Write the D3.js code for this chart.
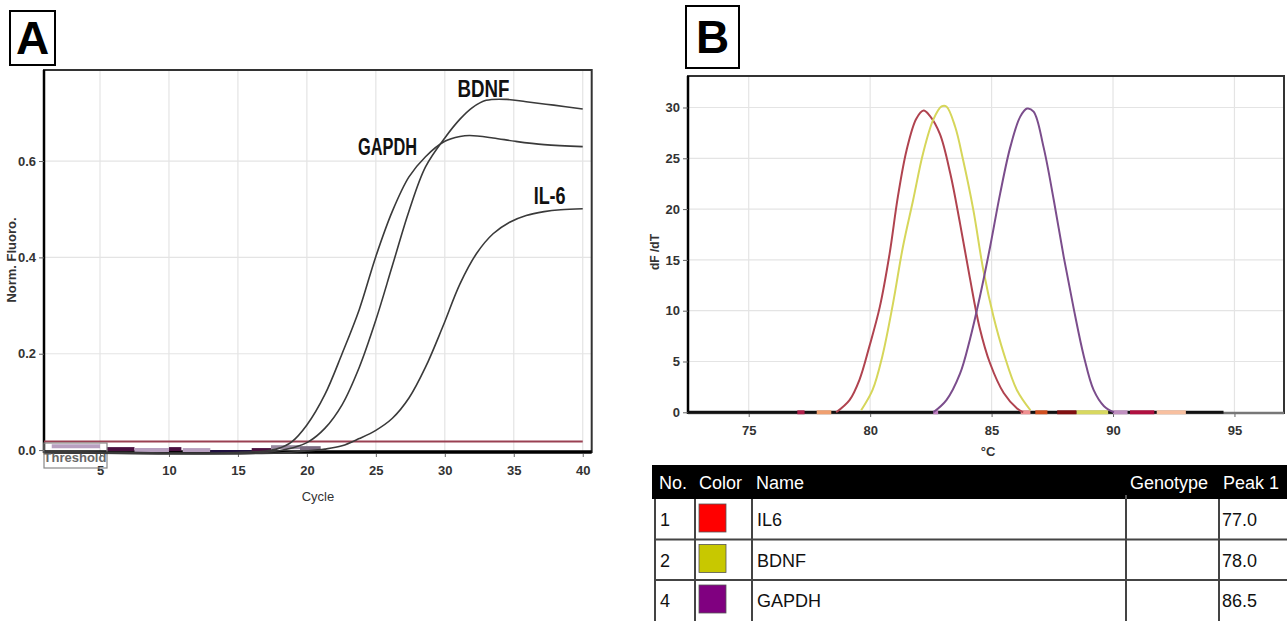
<!DOCTYPE html>
<html>
<head>
<meta charset="utf-8">
<script src="https://cdn.jsdelivr.net/npm/d3@7"></script>
<style>
  body { margin: 0; background: #fff; }
  text { font-family: "Liberation Sans", Arial, sans-serif; }
</style>
</head>
<body>
<div id="chart"></div>
<script>
// ---- panel A: amplification curves (cycle, norm. fluoro.)
const cycleTicks = [5, 10, 15, 20, 25, 30, 35, 40];
const fluoroTicks = [0.0, 0.2, 0.4, 0.6];
const gapdhAmp = [[1,-0.003],[5,-0.004],[10,-0.006],[15,-0.005],[17,-0.002],[17.9,0.003],[18.9,0.017],[20,0.052],[21.3,0.115],[22.55,0.2],[23.8,0.292],[25,0.402],[26.2,0.496],[27.4,0.567],[28.6,0.609],[30,0.641],[31.1,0.651],[31.8,0.653],[33.5,0.648],[35.1,0.641],[37.2,0.634],[40,0.63]];
const bdnfAmp = [[1,-0.004],[10,-0.007],[17,-0.005],[19,0.005],[20.1,0.017],[21.3,0.045],[22.55,0.094],[23.8,0.172],[25,0.27],[26.2,0.383],[27.4,0.496],[28.6,0.588],[30,0.648],[31.1,0.687],[32,0.711],[33,0.726],[34.5,0.728],[35.9,0.723],[37.9,0.716],[40,0.708]];
const il6Amp = [[1,-0.005],[10,-0.008],[18,-0.006],[20,-0.002],[21.3,0.002],[22.55,0.009],[23.8,0.024],[25,0.041],[26.2,0.066],[27.4,0.108],[28.6,0.172],[29.85,0.256],[31.1,0.345],[32.3,0.408],[33.5,0.449],[34.7,0.473],[35.9,0.487],[37.2,0.495],[38.4,0.499],[40,0.501]];
const threshold = 0.018;
// coloured sample markers lying on the baseline: [from, to, value, colour]
const ampMarks = [[1.5,5,0.008,"#b8a0c0"],[5.5,7.5,0.002,"#4a1040"],[7.5,10,0.0,"#b8a0c0"],[10,10.9,0.002,"#4a1040"],[11,13,0.0,"#b8a0c0"],[13,16,-0.004,"#201040"],[16,17.4,0.0,"#4a1040"],[17.4,19.5,0.006,"#9a8aa0"],[19.5,21,0.004,"#7a6a80"]];
// label, cycle, value, width
const ampLabels = [["BDNF",32.8,0.733,52],["GAPDH",25.85,0.613,59],["IL-6",37.6,0.51,32]];

// ---- panel B: melt curves (°C, dF/dT)
const tempTicks = [75, 80, 85, 90, 95];
const dfTicks = [0, 5, 10, 15, 20, 25, 30];
const il6Melt = [[78.6,0],[79.15,1.2],[79.56,3.2],[79.97,6.5],[80.4,10.4],[80.8,15.6],[81.14,21.2],[81.5,25.8],[81.9,28.9],[82.2,29.7],[82.45,29.2],[82.87,27.4],[83.3,23.5],[83.7,18.6],[84.1,13.3],[84.5,8.4],[84.94,4.8],[85.5,1.9],[86.04,0.4],[86.3,0]];
const bdnfMelt = [[79.63,0.2],[80.1,2.2],[80.5,5.5],[80.94,10.7],[81.35,16.3],[81.77,20.9],[82.18,25.5],[82.6,28.8],[82.94,30.1],[83.14,30.1],[83.5,28.1],[83.83,24.8],[84.25,19.9],[84.66,14],[85.08,9.4],[85.5,5.8],[86.04,2.2],[86.6,0.2]];
const gapdhMelt = [[82.6,0],[83.14,1.2],[83.7,3.8],[84.1,7.1],[84.52,11.4],[84.94,16.3],[85.35,21.5],[85.77,26.1],[86.18,29.1],[86.46,29.9],[86.73,29.6],[87.14,26.1],[87.56,20.9],[87.97,15.3],[88.39,10.1],[88.8,5.5],[89.2,2.2],[89.63,0.6],[90.04,0]];
const meltColors = ["#b0434f", "#d6d65a", "#7b4d8c"];
const meltMarks = [[77.0,77.3,"#b0204a"],[77.8,78.4,"#f0a070"],[82.6,82.8,"#c080c0"],[86.2,86.6,"#f09090"],[86.8,87.3,"#d05020"],[87.7,88.5,"#801010"],[88.5,89.8,"#d8d860"],[90,90.6,"#c090c0"],[90.7,91.7,"#b01040"],[91.8,93,"#f8c0a0"]];

// ---- table
const tableHeads = ["No.", "Color", "Name", "", "Genotype", "Peak 1"];
const tableNo = ["1", "2", "4"];
const tableSwatch = ["#ff0000", "#c8c800", "#800080"];
const tableName = ["IL6", "BDNF", "GAPDH"];
const tablePeak = ["77.0", "78.0", "86.5"];

const svg = d3.select("#chart").append("svg").attr("width", 1287).attr("height", 621);
svg.append("rect").attr("width", 1287).attr("height", 621).attr("fill", "#fff");

function letterBox(x, y, w, h, t) {
  svg.append("rect").attr("x", x).attr("y", y).attr("width", w).attr("height", h)
    .attr("fill", "#fff").attr("stroke", "#000").attr("stroke-width", 2);
  svg.append("text").attr("x", x + w / 2).attr("y", y + h / 2 + 16).attr("text-anchor", "middle")
    .attr("font-size", 46).attr("font-weight", "bold").text(t);
}

//////////////// panel A
letterBox(10, 11, 45, 54, "A");
const xA = d3.scaleLinear().domain([0.94, 40.65]).range([44, 591.7]);
const yA = d3.scaleLinear().domain([-0.004, 0.789]).range([452, 70]);
const gA = svg.append("g");
const [aL, aR] = xA.range(), [aB, aT] = yA.range();

gA.selectAll(".vg").data(cycleTicks).join("line")
  .attr("x1", d => xA(d)).attr("x2", d => xA(d)).attr("y1", aT).attr("y2", aB)
  .attr("stroke", "#e4e4e4").attr("stroke-width", 1.2);
gA.selectAll(".hg").data(fluoroTicks.slice(1)).join("line")
  .attr("x1", aL).attr("x2", aR).attr("y1", d => yA(d)).attr("y2", d => yA(d))
  .attr("stroke", "#e4e4e4").attr("stroke-width", 1.2);

// frame
gA.append("rect").attr("x", aL).attr("y", aT).attr("width", aR - aL).attr("height", aB - aT)
  .attr("fill", "none").attr("stroke", "#333").attr("stroke-width", 2);
gA.append("line").attr("x1", aL).attr("x2", aL).attr("y1", aT).attr("y2", aB + 1).attr("stroke", "#000").attr("stroke-width", 2.5);
gA.append("line").attr("x1", aL).attr("x2", aR).attr("y1", aB).attr("y2", aB).attr("stroke", "#000").attr("stroke-width", 3.5);

// axes
const axLeftA = gA.append("g").attr("transform", `translate(${aL},0)`)
  .call(d3.axisLeft(yA).tickValues(fluoroTicks).tickFormat(d3.format(".1f")).tickSize(5));
const axBotA = gA.append("g").attr("transform", `translate(0,${aB + 2})`)
  .call(d3.axisBottom(xA).tickValues(cycleTicks).tickSize(3).tickPadding(9));
[axLeftA, axBotA].forEach(a => {
  a.select(".domain").remove();
  a.selectAll("line").attr("stroke", "#666");
  a.selectAll("text").attr("font-size", 13).attr("fill", "#333")
    .attr("font-family", "'Liberation Sans Narrow', 'Liberation Sans', Arial").attr("font-weight", "bold");
});
gA.append("text").attr("x", 318).attr("y", 501).attr("text-anchor", "middle")
  .attr("font-size", 13).attr("fill", "#333").attr("font-family", "'Liberation Sans Narrow', Arial").text("Cycle");
gA.append("text").attr("transform", "translate(16,260) rotate(-90)").attr("text-anchor", "middle")
  .attr("font-size", 13).attr("fill", "#333").attr("font-weight", "bold").text("Norm. Fluoro.");

// baseline markers
gA.selectAll(".mk").data(ampMarks).join("line")
  .attr("x1", d => xA(d[0])).attr("x2", d => xA(d[1])).attr("y1", d => yA(d[2])).attr("y2", d => yA(d[2]))
  .attr("stroke", d => d[3]).attr("stroke-width", 4);

// threshold
gA.append("line").attr("x1", aL).attr("x2", xA(40)).attr("y1", yA(threshold)).attr("y2", yA(threshold))
  .attr("stroke", "#9a4052").attr("stroke-width", 2);
gA.append("rect").attr("x", 44).attr("y", 443).attr("width", 63).attr("height", 25)
  .attr("fill", "none").attr("stroke", "#888").attr("stroke-width", 1.2);
gA.append("text").attr("x", 75).attr("y", 462).attr("text-anchor", "middle").attr("font-size", 13)
  .attr("fill", "#666").attr("font-weight", "bold").attr("font-family", "'Liberation Sans Narrow', Arial").text("Threshold");

const lineA = d3.line().x(d => xA(d[0])).y(d => yA(d[1])).curve(d3.curveCatmullRom.alpha(0.5));
[gapdhAmp, bdnfAmp, il6Amp].forEach(s => {
  gA.append("path").attr("d", lineA(s)).attr("fill", "none").attr("stroke", "#3a3a3a").attr("stroke-width", 1.6);
});
gA.selectAll(".lab").data(ampLabels).join("text")
  .attr("x", d => xA(d[1]) - d[3] / 2).attr("y", d => yA(d[2]))
  .attr("font-size", 23).attr("font-weight", "bold").attr("fill", "#111")
  .attr("font-family", "'Liberation Sans Narrow', Arial")
  .attr("textLength", d => d[3]).attr("lengthAdjust", "spacingAndGlyphs").text(d => d[0]);

//////////////// panel B
letterBox(686, 6, 53, 62, "B");
const xB = d3.scaleLinear().domain([72.5, 97.04]).range([688, 1284]);
const yB = d3.scaleLinear().domain([-0.07, 33.1]).range([413, 76]);
const gB = svg.append("g");

gB.selectAll(".vg").data(tempTicks).join("line")
  .attr("x1", d => xB(d)).attr("x2", d => xB(d)).attr("y1", 76).attr("y2", 413)
  .attr("stroke", "#e4e4e4").attr("stroke-width", 1.2);
gB.selectAll(".hg").data(dfTicks.slice(1)).join("line")
  .attr("x1", 688).attr("x2", 1284).attr("y1", d => yB(d)).attr("y2", d => yB(d))
  .attr("stroke", "#e4e4e4").attr("stroke-width", 1.2);
gB.append("rect").attr("x", 688).attr("y", 76).attr("width", 596).attr("height", 337)
  .attr("fill", "none").attr("stroke", "#333").attr("stroke-width", 2);
gB.append("line").attr("x1", 688).attr("x2", 688).attr("y1", 76).attr("y2", 414).attr("stroke", "#000").attr("stroke-width", 2.5);
gB.append("line").attr("x1", 688).attr("x2", 1284).attr("y1", 413).attr("y2", 413).attr("stroke", "#777").attr("stroke-width", 2.5);
gB.append("line").attr("x1", xB(72.5)).attr("x2", xB(94.55)).attr("y1", yB(0)).attr("y2", yB(0)).attr("stroke", "#111").attr("stroke-width", 3);

const axLeftB = gB.append("g").attr("transform", "translate(688,0)")
  .call(d3.axisLeft(yB).tickValues(dfTicks).tickSize(5));
const axBotB = gB.append("g").attr("transform", "translate(0,414)")
  .call(d3.axisBottom(xB).tickValues(tempTicks).tickSize(3).tickPadding(9));
[axLeftB, axBotB].forEach(a => {
  a.select(".domain").remove();
  a.selectAll("line").attr("stroke", "#666");
  a.selectAll("text").attr("font-size", 13).attr("fill", "#333")
    .attr("font-family", "'Liberation Sans Narrow', 'Liberation Sans', Arial").attr("font-weight", "bold");
});
gB.append("text").attr("x", 988).attr("y", 456).attr("text-anchor", "middle")
  .attr("font-size", 13).attr("fill", "#333").attr("font-weight", "bold").text("°C");
gB.append("text").attr("transform", "translate(659,252) rotate(-90)").attr("text-anchor", "middle")
  .attr("font-size", 12).attr("fill", "#333").attr("font-weight", "bold").text("dF /dT");

gB.selectAll(".mk").data(meltMarks).join("line")
  .attr("x1", d => xB(d[0])).attr("x2", d => xB(d[1])).attr("y1", yB(0)).attr("y2", yB(0))
  .attr("stroke", d => d[2]).attr("stroke-width", 4);

const lineB = d3.line().x(d => xB(d[0])).y(d => yB(d[1])).curve(d3.curveCatmullRom.alpha(0.5));
[il6Melt, bdnfMelt, gapdhMelt].forEach((s, i) => {
  gB.append("path").attr("d", lineB(s)).attr("fill", "none").attr("stroke", meltColors[i]).attr("stroke-width", 2);
});

//////////////// table
const colX = [655, 695, 752, 1126, 1126, 1219, 1287];
const headY = 465, headH = 34, rowH = 40.5;
const gT = svg.append("g");
gT.append("rect").attr("x", 652).attr("y", headY).attr("width", 635).attr("height", headH).attr("fill", "#000");
gT.selectAll(".hd").data(tableHeads).join("text")
  .attr("x", (d, i) => colX[i] + 4).attr("y", headY + 24)
  .attr("font-size", 18).attr("fill", "#fff").text(d => d);
gT.append("line").attr("x1", 1126).attr("x2", 1126).attr("y1", headY + headH - 4).attr("y2", headY + headH).attr("stroke", "#aaa");

const rows = d3.range(tableNo.length);
const top0 = headY + headH;
gT.selectAll(".hl").data(rows.slice(1)).join("line")
  .attr("x1", 655).attr("x2", 1287).attr("y1", d => top0 + d * rowH).attr("y2", d => top0 + d * rowH)
  .attr("stroke", "#444").attr("stroke-width", 2);
gT.selectAll(".vl").data([655, 695, 752, 1126, 1219]).join("line")
  .attr("x1", d => d).attr("x2", d => d).attr("y1", top0).attr("y2", 621)
  .attr("stroke", "#444").attr("stroke-width", 2);
gT.selectAll(".no").data(tableNo).join("text")
  .attr("x", 660).attr("y", (d, i) => top0 + i * rowH + 27).attr("font-size", 18).attr("fill", "#111").text(d => d);
gT.selectAll(".sw").data(tableSwatch).join("rect")
  .attr("x", 699).attr("y", (d, i) => top0 + i * rowH + 5).attr("width", 27).attr("height", 28)
  .attr("fill", d => d).attr("stroke", "#555").attr("stroke-width", 0.8);
gT.selectAll(".nm").data(tableName).join("text")
  .attr("x", 757).attr("y", (d, i) => top0 + i * rowH + 27).attr("font-size", 18).attr("fill", "#111").text(d => d);
gT.selectAll(".pk").data(tablePeak).join("text")
  .attr("x", 1222).attr("y", (d, i) => top0 + i * rowH + 27).attr("font-size", 18).attr("fill", "#111").text(d => d);
</script>
</body>
</html>
